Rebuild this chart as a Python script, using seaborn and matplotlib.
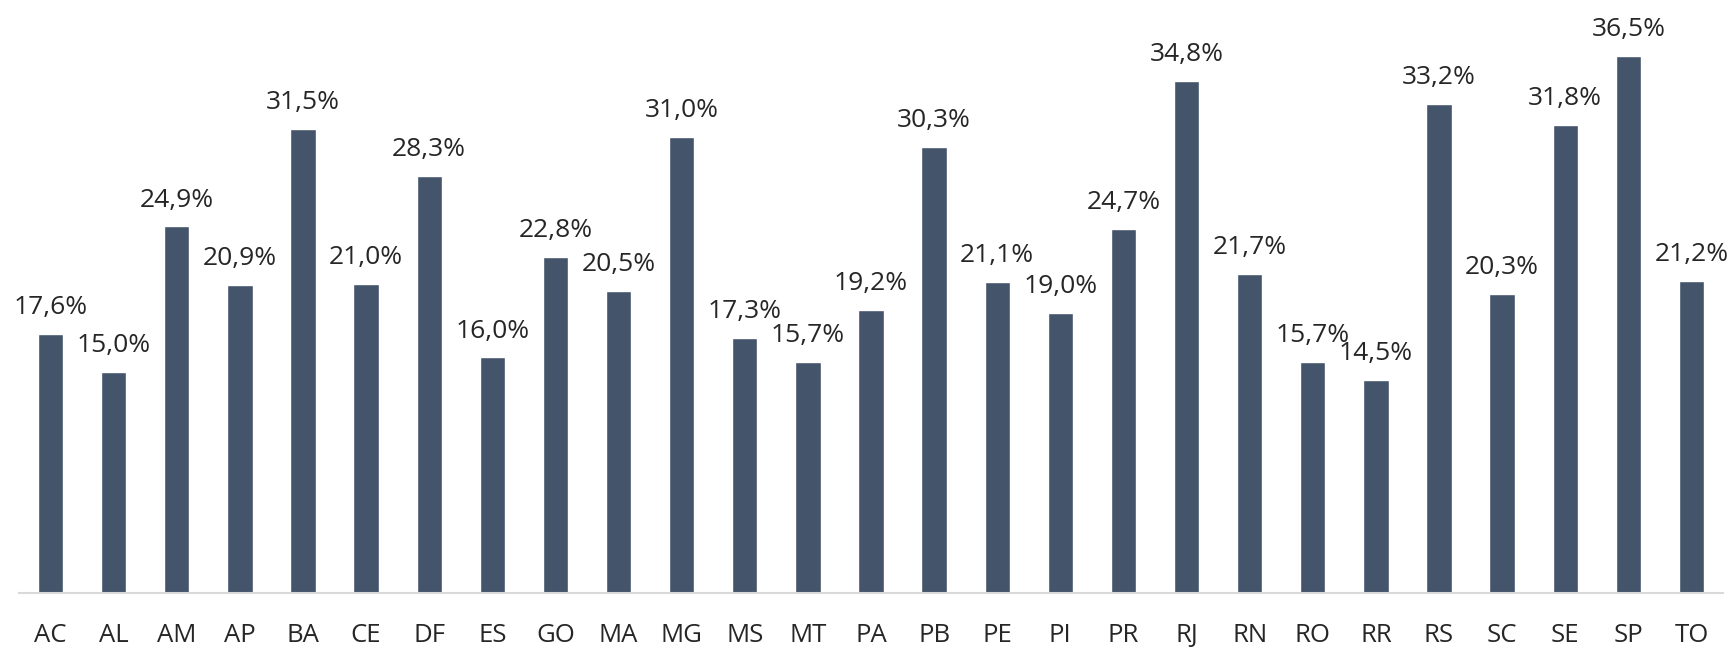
import pandas as pd
import seaborn as sns
import matplotlib.pyplot as plt

# dados: percentual por UF
ufs = ['AC', 'AL', 'AM', 'AP', 'BA', 'CE', 'DF', 'ES', 'GO', 'MA', 'MG', 'MS', 'MT', 'PA',
       'PB', 'PE', 'PI', 'PR', 'RJ', 'RN', 'RO', 'RR', 'RS', 'SC', 'SE', 'SP', 'TO']
valores = [17.6, 15.0, 24.9, 20.9, 31.5, 21.0, 28.3, 16.0, 22.8, 20.5, 31.0, 17.3, 15.7, 19.2,
           30.3, 21.1, 19.0, 24.7, 34.8, 21.7, 15.7, 14.5, 33.2, 20.3, 31.8, 36.5, 21.2]

df = pd.DataFrame({'uf': ufs, 'valor': valores})

sns.set_theme(style="white")
plt.rcParams['font.family'] = ['Open Sans', 'DejaVu Sans']

fig = plt.figure(figsize=(17.33, 6.49), dpi=100)
ax = fig.add_axes([19 / 1733, 56 / 649, 1704 / 1733, 593 / 649])

sns.barplot(data=df, x='uf', y='valor', color='#44546A', width=0.4, saturation=1, ax=ax)

# rótulos de dados no formato brasileiro
rotulos = [f'{v:.1f}%'.replace('.', ',') for v in valores]
ax.bar_label(ax.containers[0], labels=rotulos, padding=10, fontsize=19, color='#262626')

ax.set_ylim(0, 40.28)
ax.set_xlim(-0.5, len(ufs) - 0.5)
ax.set_xlabel('')
ax.set_ylabel('')
ax.set_yticks([])
ax.tick_params(axis='x', labelsize=18.5, colors='#262626', length=0, pad=21.5)
for s in ['top', 'right', 'left']:
    ax.spines[s].set_visible(False)
ax.spines['bottom'].set_color('#d9d9d9')
ax.spines['bottom'].set_linewidth(1.5)

plt.savefig('out.png', dpi=100)
